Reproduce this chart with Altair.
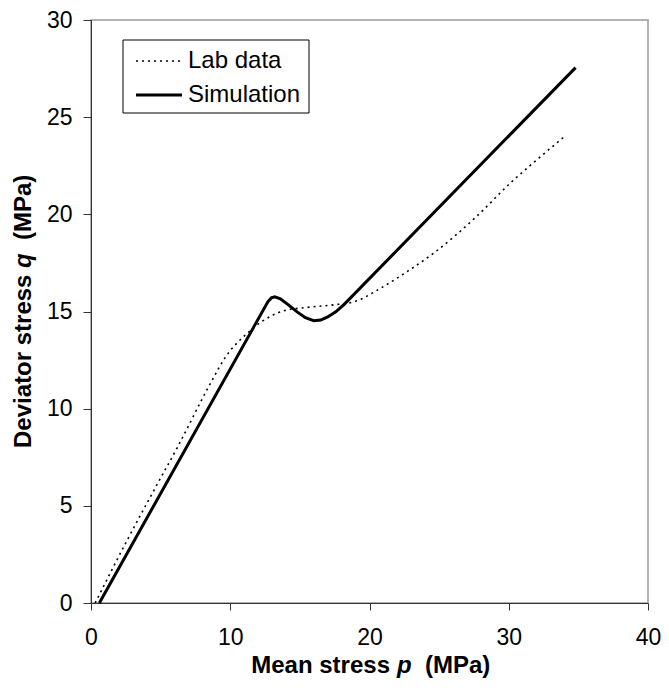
import altair as alt
import pandas as pd

# Lab data (dotted)
lab_p = [0.3, 2.5, 4.9, 6.2, 8.5, 9.7, 11.1, 12.3, 13.9, 15.4, 17.5, 18.9, 20.8, 22.8, 24.6, 27.7, 30.1, 32.5, 34.0]
lab_q = [0.0, 3.1, 6.3, 8.0, 11.2, 12.7, 13.8, 14.5, 15.05, 15.2, 15.35, 15.5, 16.2, 17.1, 18.0, 19.9, 21.6, 23.1, 24.0]

# Simulation (solid)
sim_p = [0.6, 12.7, 12.95, 13.2, 13.6, 14.2, 14.8, 15.4, 16.0, 16.5, 17.0, 17.6, 18.2, 34.8]
sim_q = [0.0, 15.5, 15.7, 15.76, 15.65, 15.33, 14.98, 14.68, 14.53, 14.56, 14.72, 15.0, 15.38, 27.55]

series = ["Lab data", "Simulation"]
x_ticks = [0, 10, 20, 30, 40]
y_ticks = [0, 5, 10, 15, 20, 25, 30]

lab_df = pd.DataFrame({"p": lab_p, "q": lab_q, "series": series[0], "order": range(len(lab_p))})
sim_df = pd.DataFrame({"p": sim_p, "q": sim_q, "series": series[1], "order": range(len(sim_p))})

FONT = "Liberation Sans"
W, H = 557, 583
DASH = [2, 4]

x_enc = alt.X("p:Q", scale=alt.Scale(domain=[0, 40], nice=False),
              axis=alt.Axis(values=x_ticks, title=None, grid=False, tickSize=7,
                            labelPadding=16, labelFontSize=23, labelFont=FONT,
                            labelFlush=False, labelColor="black",
                            domainColor="#333", tickColor="#333"))
y_enc = alt.Y("q:Q", scale=alt.Scale(domain=[0, 30], nice=False),
              axis=alt.Axis(values=y_ticks, title=None, grid=False, tickSize=8,
                            labelPadding=11, labelFontSize=23, labelFont=FONT,
                            labelFlush=False, labelColor="black",
                            domainColor="#333", tickColor="#333"))

lab_line = alt.Chart(lab_df).mark_line(
    interpolate="monotone", color="black", strokeDash=DASH, strokeWidth=1.6
).encode(x=x_enc, y=y_enc, order="order:Q")
sim_line = alt.Chart(sim_df).mark_line(
    interpolate="linear", color="black", strokeWidth=3
).encode(x=x_enc, y=y_enc, order="order:Q")

one = pd.DataFrame({"k": [0]})


def tx(text, x, y, italic=False, bold=True, align="left", angle=0, size=24, baseline="alphabetic"):
    props = dict(fontSize=size, font=FONT, fontWeight="bold" if bold else "normal",
                 align=align, baseline=baseline, color="black")
    if italic:
        props["fontStyle"] = "italic"
    if angle:
        props["angle"] = angle
    return alt.Chart(pd.DataFrame({"t": [text]})).mark_text(**props).encode(
        text="t:N", x=alt.value(x), y=alt.value(y))


# x-axis title: "Mean stress p  (MPa)"
xt1 = tx("Mean stress", 299, 653, align="right")
xt2 = tx("p", 306, 653, italic=True)
xt3 = tx("(MPa)", 334, 653)

# y-axis title: "Deviator stress q  (MPa)"
yt1 = tx("Deviator stress", -60, 428, angle=270)
yt2 = tx("q", -60, 248, angle=270, italic=True)
yt3 = tx("(MPa)", -60, 220, angle=270)

# legend box
leg_box = alt.Chart(one).mark_rect(fill="white", stroke="black", strokeWidth=1).encode(
    x=alt.value(32), x2=alt.value(218), y=alt.value(20), y2=alt.value(93))
leg_lab = alt.Chart(one).mark_rule(color="black", strokeDash=DASH, strokeWidth=1.6).encode(
    x=alt.value(45), x2=alt.value(91), y=alt.value(41))
leg_sim = alt.Chart(one).mark_rule(color="black", strokeWidth=3).encode(
    x=alt.value(45), x2=alt.value(91), y=alt.value(75))
leg_t1 = tx(series[0], 97, 41, bold=False, baseline="middle")
leg_t2 = tx(series[1], 97, 75, bold=False, baseline="middle")

chart = alt.layer(
    lab_line, sim_line, xt1, xt2, xt3, yt1, yt2, yt3,
    leg_box, leg_lab, leg_sim, leg_t1, leg_t2
).properties(
    width=W, height=H,
    autosize=alt.AutoSizeParams(type="none"),
    padding={"left": 83, "top": 12, "right": 13, "bottom": 83},
).configure_view(
    stroke="#999", strokeWidth=1.5
)

chart.save("out.html", embed_options={"renderer": "svg", "actions": False})
